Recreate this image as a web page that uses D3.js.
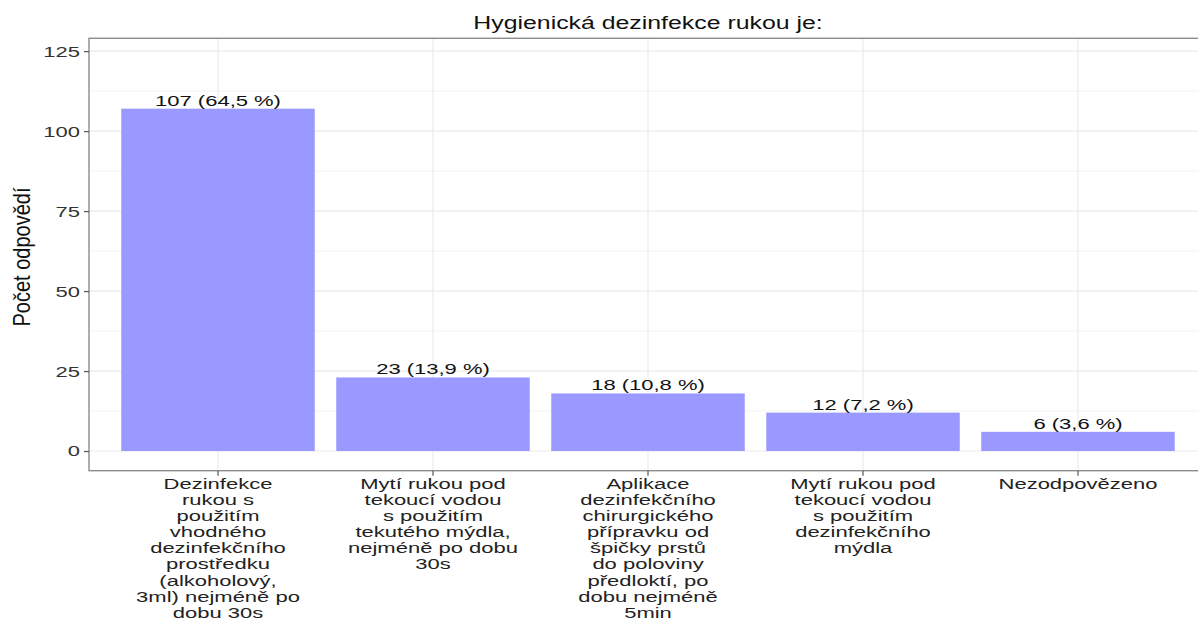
<!DOCTYPE html>
<html>
<head>
<meta charset="utf-8">
<script src="https://cdn.jsdelivr.net/npm/d3@7"></script>
<style>
  body { margin: 0; background: #fff; }
  svg { display: block; font-family: "Liberation Sans", Arial, sans-serif; }
</style>
</head>
<body>
<div id="chart"></div>
<script>
// answer categories (line-broken like the original axis)
const categories = [
  ["Dezinfekce", "rukou s", "použitím", "vhodného", "dezinfekčního", "prostředku", "(alkoholový,", "3ml) nejméně po", "dobu 30s"],
  ["Mytí rukou pod", "tekoucí vodou", "s použitím", "tekutého mýdla,", "nejméně po dobu", "30s"],
  ["Aplikace", "dezinfekčního", "chirurgického", "přípravku od", "špičky prstů", "do poloviny", "předloktí, po", "dobu nejméně", "5min"],
  ["Mytí rukou pod", "tekoucí vodou", "s použitím", "dezinfekčního", "mýdla"],
  ["Nezodpovězeno"]
];
const counts = [107, 23, 18, 12, 6];
const percents = ["64,5", "13,9", "10,8", "7,2", "3,6"];
const yTicks = [0, 25, 50, 75, 100, 125];
const yMinor = [12.5, 37.5, 62.5, 87.5, 112.5];

const width = 1198, height = 623;
const panel = { left: 89, right: 1207, top: 38.3, bottom: 470.7 };
const sx = 1.42; // the source picture is stretched horizontally

const svg = d3.select("#chart").append("svg")
  .attr("width", width)
  .attr("height", height);

const keys = categories.map((d, i) => "c" + i);

const x = d3.scaleBand()
  .domain(keys)
  .range([panel.left, panel.right])
  .paddingInner(0.1)
  .paddingOuter(0.15);

const y = d3.scaleLinear()
  .domain([-6.15, 129])
  .range([panel.bottom, panel.top]);

// grid
const grid = svg.append("g");
grid.selectAll("line.minor").data(yMinor).join("line")
  .attr("class", "minor")
  .attr("x1", panel.left).attr("x2", panel.right)
  .attr("y1", d => y(d)).attr("y2", d => y(d))
  .attr("stroke", "#f3f3f3").attr("stroke-width", 1);
grid.selectAll("line.major").data(yTicks).join("line")
  .attr("class", "major")
  .attr("x1", panel.left).attr("x2", panel.right)
  .attr("y1", d => y(d)).attr("y2", d => y(d))
  .attr("stroke", "#ebebeb").attr("stroke-width", 1.2);
grid.selectAll("line.vert").data(keys).join("line")
  .attr("class", "vert")
  .attr("x1", d => x(d) + x.bandwidth() / 2).attr("x2", d => x(d) + x.bandwidth() / 2)
  .attr("y1", panel.top).attr("y2", panel.bottom)
  .attr("stroke", "#ebebeb").attr("stroke-width", 1.2);

// bars
svg.append("g").selectAll("rect").data(counts).join("rect")
  .attr("x", (d, i) => x(keys[i]))
  .attr("width", x.bandwidth())
  .attr("y", d => y(d))
  .attr("height", d => y(0) - y(d))
  .attr("fill", "#9999ff");

// bar labels
svg.append("g").selectAll("text").data(counts).join("text")
  .attr("transform", (d, i) => `translate(${x(keys[i]) + x.bandwidth() / 2},${y(d) - 3}) scale(${sx},1)`)
  .attr("text-anchor", "middle")
  .attr("font-size", 15.5)
  .attr("fill", "#111")
  .text((d, i) => `${d} (${percents[i]} %)`);

// panel border
svg.append("rect")
  .attr("x", panel.left).attr("y", panel.top)
  .attr("width", panel.right - panel.left).attr("height", panel.bottom - panel.top)
  .attr("fill", "none").attr("stroke", "#8c8c8c").attr("stroke-width", 1.4);

// y axis
const yAxis = svg.append("g")
  .attr("transform", `translate(${panel.left},0)`)
  .call(d3.axisLeft(y).tickValues(yTicks).tickSize(5).tickPadding(4));
yAxis.select(".domain").remove();
yAxis.selectAll(".tick line").attr("stroke", "#555").attr("stroke-width", 1.2);
yAxis.selectAll(".tick text")
  .attr("font-size", 15.5)
  .attr("fill", "#333")
  .attr("font-family", "Liberation Sans, Arial, sans-serif")
  .attr("x", null)
  .attr("transform", `translate(-9,0) scale(${sx},1)`);

// x axis ticks
const xAxis = svg.append("g")
  .attr("transform", `translate(0,${panel.bottom})`)
  .call(d3.axisBottom(x).tickSize(5).tickFormat(""));
xAxis.select(".domain").remove();
xAxis.selectAll(".tick line").attr("stroke", "#555").attr("stroke-width", 1.2);

// category labels
const catG = svg.append("g").selectAll("text").data(categories).join("text")
  .attr("transform", (d, i) => `translate(${x(keys[i]) + x.bandwidth() / 2},489) scale(${sx},1)`)
  .attr("text-anchor", "middle")
  .attr("font-size", 15.5)
  .attr("fill", "#222");
catG.selectAll("tspan").data(d => d).join("tspan")
  .attr("x", 0)
  .attr("y", (d, j) => j * 16.1)
  .text(d => d);

// title
svg.append("text")
  .attr("transform", `translate(${(panel.left + panel.right) / 2},29) scale(${sx},1)`)
  .attr("text-anchor", "middle")
  .attr("font-size", 17.5)
  .attr("fill", "#111")
  .text("Hygienická dezinfekce rukou je:");

// y axis title
svg.append("text")
  .attr("transform", "translate(30,257) scale(1.2,1) rotate(-90)")
  .attr("text-anchor", "middle")
  .attr("font-size", 20)
  .attr("fill", "#111")
  .text("Počet odpovědí");
</script>
</body>
</html>
